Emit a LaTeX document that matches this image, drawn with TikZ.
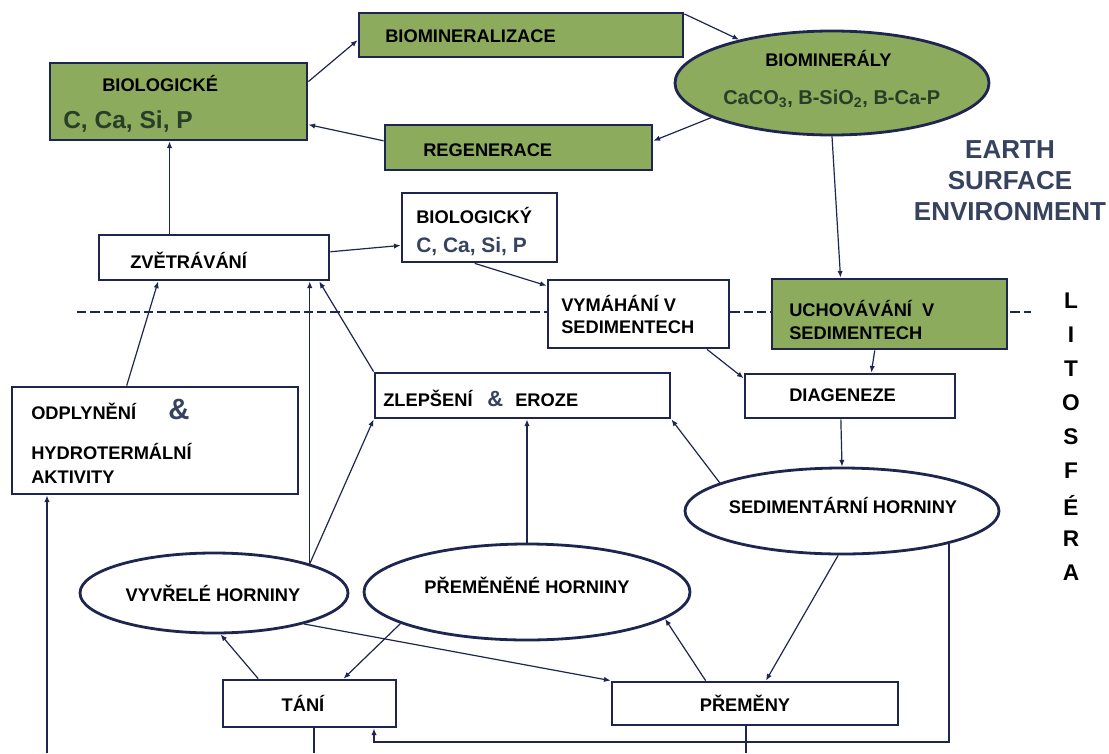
\documentclass[tikz,border=0pt]{standalone}
\usepackage{fontspec}
\setmainfont{Liberation Sans}
\usetikzlibrary{arrows.meta,calc,shapes.geometric}
\definecolor{navy}{RGB}{30,38,80}
\definecolor{boxgreen}{RGB}{140,171,92}
\definecolor{dkgreen}{RGB}{40,62,40}
\definecolor{slate}{RGB}{55,66,95}
\def\px{*0.75pt}
\newcommand{\lblfont}{\bfseries\fontsize{13.7}{16}\selectfont}
\tikzset{
  box/.style={draw=navy, line width=2.1pt, rectangle, inner sep=0pt},
  gbox/.style={box, fill=boxgreen},
  wbox/.style={box, fill=white},
  oval/.style={draw=navy, line width=2.1pt, ellipse, inner sep=0pt},
  lbl/.style={font=\lblfont, text=black, inner sep=0pt, anchor=base west},
  clbl/.style={font=\lblfont, text=black, inner sep=0pt, anchor=base},
  arr/.style={draw=navy, line width=0.9pt, -{Latex[length=5pt,width=4pt]}},
  ln/.style={draw=navy, line width=0.9pt},
  dline/.style={draw=navy, line width=1.8pt, dash pattern=on 7pt off 3pt},
  amp/.style={text=slate, inner sep=0pt, anchor=base west}
}
\begin{document}
\begin{tikzpicture}[x=0.75pt,y=-0.75pt]
\fill[white] (0,0) rectangle (1109,753);
\useasboundingbox (0,0) rectangle (1109,753);

% dashed boundary
\coordinate (dl1) at (77,312);
\coordinate (dl2) at (1031,312);
\draw[dline] (dl1) -- (dl2);

% boxes
\node[gbox, minimum width=257\px, minimum height=77\px] (bioe) at (178.5,101.5) {};
\node[gbox, minimum width=324\px, minimum height=44\px] (biomin) at (521,35) {};
\node[gbox, minimum width=267\px, minimum height=45\px] (regen) at (518.5,147.5) {};
\node[oval, fill=boxgreen, minimum width=314\px, minimum height=104\px] (bm) at (832,83) {};
\node[wbox, minimum width=230\px, minimum height=45\px] (zvet) at (214,257.5) {};
\node[wbox, minimum width=155\px, minimum height=69\px] (bioy) at (479.5,227.5) {};
\node[wbox, minimum width=181\px, minimum height=68\px] (vym) at (638.5,314) {};
\node[gbox, minimum width=235\px, minimum height=70\px] (uch) at (889.5,314) {};
\node[wbox, minimum width=210\px, minimum height=44\px] (diag) at (850,396) {};
\node[wbox, minimum width=295\px, minimum height=45\px] (zlep) at (522.5,395.5) {};
\node[wbox, minimum width=286\px, minimum height=107\px] (odp) at (155,440.5) {};
\node[oval, fill=white, minimum width=314\px, minimum height=86\px] (sed) at (842,511) {};
\node[oval, fill=white, minimum width=268\px, minimum height=80\px] (vyv) at (214,593) {};
\node[oval, fill=white, minimum width=326\px, minimum height=96\px] (prem) at (527,592) {};
\node[wbox, minimum width=173\px, minimum height=47\px] (tani) at (309.5,703.5) {};
\node[wbox, minimum width=286\px, minimum height=43\px] (premeny) at (755,703.5) {};

% connectors
\draw[arr] ($(bioe.north east)!0.25!(bioe.south east)$) -- ($(biomin.north west)!0.61!(biomin.south west)$);
\draw[arr] ($(biomin.north east)!0.05!(biomin.south east)$) -- (bm.155);
\draw[arr] (bm.196) -- ($(regen.north east)!0.36!(regen.south east)$);
\draw[arr] ($(regen.north west)!0.36!(regen.south west)$) -- ($(bioe.north east)!0.79!(bioe.south east)$);
\coordinate (zv1) at ($(zvet.north west)!0.309!(zvet.north east)$);
\draw[arr] (zv1) -- (zv1 |- bioe.south);
\draw[arr] (bm.south) -- ($(uch.north west)!0.294!(uch.north east)$);
\draw[arr] ($(zvet.north east)!0.38!(zvet.south east)$) -- ($(bioy.north west)!0.75!(bioy.south west)$);
\draw[arr] ($(bioy.south west)!0.47!(bioy.south east)$) -- ($(vym.north west)!0.1!(vym.south west)$);
\draw[arr] ($(vym.south west)!0.873!(vym.south east)$) -- ($(diag.north west)!0.12!(diag.south west)$);
\draw[arr] ($(uch.south west)!0.438!(uch.south east)$) -- ($(diag.north west)!0.6!(diag.north east)$);
\draw[arr] ($(diag.south west)!0.457!(diag.south east)$) -- (sed.north);
\draw[arr] (sed.167) -- (zlep.south east);
\draw[arr] (prem.north) -- (prem.north |- zlep.south);
\draw[arr] (vyv.17) -- (zlep.south west);
\draw[arr] (vyv.17) -- (vyv.17 |- zvet.south);
\draw[arr] (zlep.north west) -- ($(zvet.south west)!0.952!(zvet.south east)$);
\draw[arr] ($(odp.north west)!0.402!(odp.north east)$) -- ($(zvet.south west)!0.26!(zvet.south east)$);
\coordinate (b1) at (47,753);
\draw[arr] (b1) -- (b1 |- odp.south);
\draw[arr] ($(tani.north west)!0.208!(tani.north east)$) -- (vyv.-81);
\draw[arr] (prem.194) -- ($(tani.north west)!0.694!(tani.north east)$);
\draw[arr] (vyv.-19) -- (premeny.north west);
\draw[arr] ($(premeny.north west)!0.329!(premeny.north east)$) -- (prem.-11);
\draw[arr] (sed.-95) -- ($(premeny.north west)!0.538!(premeny.north east)$);
\coordinate (tk) at (374,742);
\draw[arr] (sed.-17.5) |- (tk) -- (tk |- tani.south);
\coordinate (bot) at (0,753);
\coordinate (tb) at ($(tani.south west)!0.526!(tani.south east)$);
\draw[ln] (tb) -- (tb |- bot);
\coordinate (pb) at ($(premeny.south west)!0.469!(premeny.south east)$);
\draw[ln] (pb) -- (pb |- bot);

% labels
\node[lbl] (t1) at (102,91.5) {BIOLOGICKÉ};
\node[lbl, font=\bfseries\fontsize{18.4}{20}\selectfont, text=dkgreen] (t2) at (63,128.7) {C, Ca, Si, P};
\node[lbl] (t3) at (385,42.5) {BIOMINERALIZACE};
\node[lbl] (t4) at (423,156.5) {REGENERACE};
\node[lbl] (t5) at (765,66.5) {BIOMINERÁLY};
\node[lbl, font=\bfseries\fontsize{15}{18}\selectfont, text=dkgreen] (t6) at (723,104) {CaCO\textsubscript{3}, B-SiO\textsubscript{2}, B-Ca-P};
\node[font=\bfseries\fontsize{19.5}{23.3}\selectfont, text=slate, align=center, inner sep=0pt] (earth) at (1010,181) {EARTH\\SURFACE\\ENVIRONMENT};
\node[lbl] (t7) at (130,268.5) {ZVĚTRÁVÁNÍ};
\node[lbl] (t8) at (416,223.5) {BIOLOGICKÝ};
\node[lbl, font=\bfseries\fontsize{15.7}{18}\selectfont, text=slate] (t9) at (416,252.5) {C, Ca, Si, P};
\node[lbl] (t10) at (561,311.5) {VYMÁHÁNÍ V};
\node[lbl] (t11) at (561,333.5) {SEDIMENTECH};
\node[lbl] (t12) at (789,316.5) {UCHOVÁVÁNÍ\ \ V};
\node[lbl] (t13) at (789,339.5) {SEDIMENTECH};
\node[lbl] (t14) at (789,401.5) {DIAGENEZE};
\node[lbl] (t15) at (383,406.5) {ZLEPŠENÍ};
\node[amp, font=\bfseries\fontsize{16.5}{18}\selectfont] (t16) at (487,406.5) {\&};
\node[lbl] (t17) at (515,406.5) {EROZE};
\node[lbl] (t18) at (31,419.5) {ODPLYNĚNÍ};
\node[amp, font=\bfseries\fontsize{22}{24}\selectfont] (t19) at (168,419.5) {\&};
\node[lbl] (t20) at (31,459.5) {HYDROTERMÁLNÍ};
\node[lbl] (t21) at (31,483.5) {AKTIVITY};
\node[clbl] (t22) at (843,513.5) {SEDIMENTÁRNÍ HORNINY};
\node[clbl] (t23) at (213,601.5) {VYVŘELÉ HORNINY};
\node[clbl] (t24) at (527,593.5) {PŘEMĚNĚNÉ HORNINY};
\node[clbl] (t25) at (303,711.5) {TÁNÍ};
\node[clbl] (t26) at (745,711.5) {PŘEMĚNY};
\foreach \l [count=\i] in {L,I,T,O,S,F,É,R,A}
  \node[font=\bfseries\fontsize{17}{18}\selectfont, text=black, inner sep=0pt] (lit\i) at (1071,267+34*\i) {\l};
\end{tikzpicture}
\end{document}
